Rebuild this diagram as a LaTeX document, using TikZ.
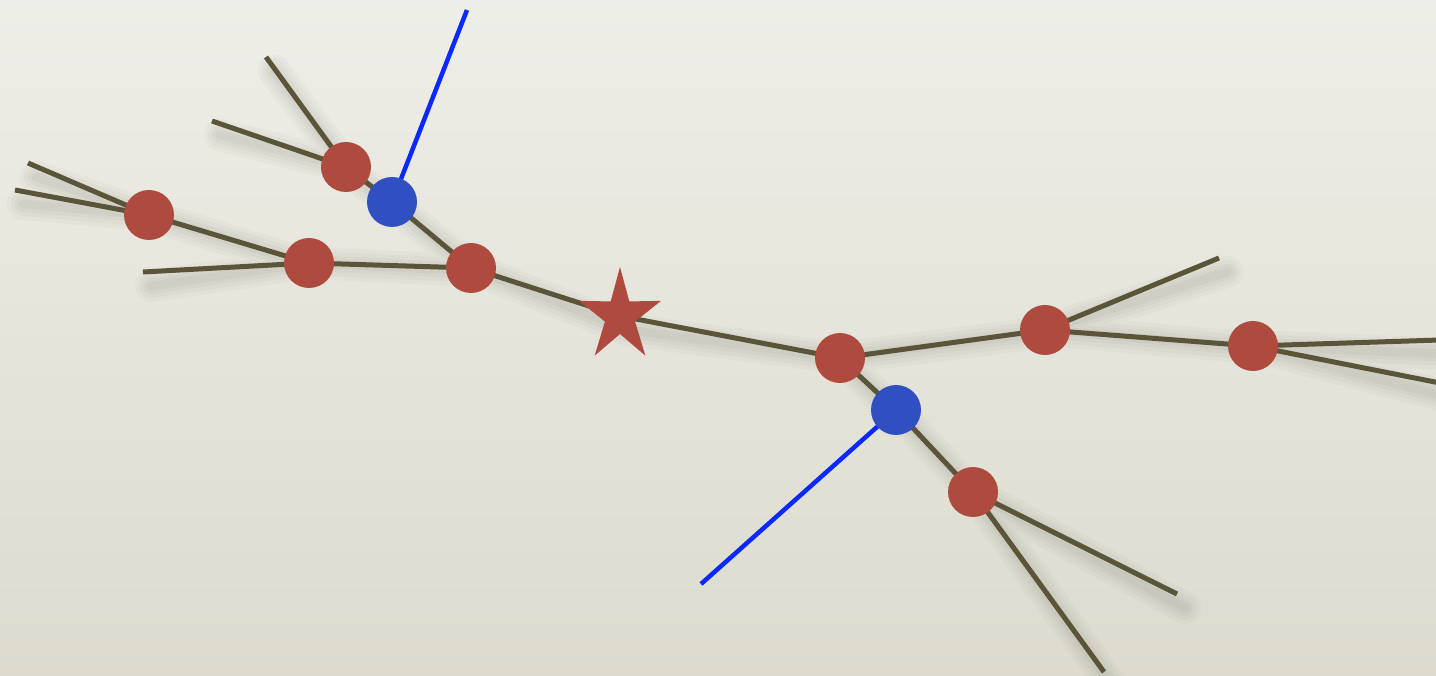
\documentclass[tikz,border=0pt]{standalone}
\pgfdeclarelayer{bg}
\pgfdeclarelayer{shadowlayer}
\pgfdeclarelayer{edgelayer}
\pgfsetlayers{bg,shadowlayer,edgelayer,main}
\definecolor{bgtop}{HTML}{EEEEE8}
\definecolor{bgbot}{HTML}{DCDBCE}
\definecolor{branch}{HTML}{5A5438}
\definecolor{ballred}{HTML}{AF4A3F}
\definecolor{ballblue}{HTML}{3050C2}
\definecolor{linkblue}{HTML}{0A28FF}
\definecolor{shadowc}{HTML}{5E5E50}
\tikzset{
  redball/.style={circle, fill=ballred, minimum size=50pt, inner sep=0pt},
  blueball/.style={circle, fill=ballblue, minimum size=50pt, inner sep=0pt},
  branchline/.style={draw=branch, line width=5pt},
  bluelink/.style={draw=linkblue, line width=4.5pt},
}
\begin{document}
\begin{tikzpicture}[x=1pt,y=-1pt]
\useasboundingbox (0,0) rectangle (1436,676);
% nodes
\node[redball] (a1) at (149,215) {};
\node[redball] (a2) at (309,263) {};
\node[redball] (a3) at (471,268) {};
\node[redball] (a4) at (346,167) {};
\node[blueball] (b1) at (392,202) {};
\coordinate (s) at (620,316);
\fill[ballred, shift={(620,316)}, xscale=0.88, yscale=-1]
  (90:49) -- (126:18) -- (162:49) -- (198:18) -- (234:49) -- (270:18)
  -- (306:49) -- (342:18) -- (18:49) -- (54:18) -- cycle;
\node[redball] (c1) at (840,358) {};
\node[blueball] (b2) at (896,410) {};
\node[redball] (c2) at (973,492) {};
\node[redball] (d1) at (1045,330) {};
\node[redball] (d2) at (1253,346) {};
% free ends
\coordinate (e1) at (28,163);
\coordinate (e2) at (15,190);
\coordinate (e3) at (143,272);
\coordinate (e4) at (266,57);
\coordinate (e5) at (212,121);
\coordinate (e6) at (467,10);
\coordinate (e7) at (1219,258);
\coordinate (e8) at (1440,340);
\coordinate (e9) at (1440,383);
\coordinate (e10) at (1177,594);
\coordinate (e11) at (1104,672);
\coordinate (e12) at (701,584);
\begin{pgfonlayer}{bg}
\shade[top color=bgtop, bottom color=bgbot] (0,0) rectangle (1436,676);
\end{pgfonlayer}
\begin{pgfonlayer}{shadowlayer}
\foreach \w/\o in {32/0.035,24/0.04,16/0.045,9/0.05} {
  \begin{scope}[transparency group, opacity=\o]
  \foreach \p/\q in {a1/e1,a1/e2,a1/a2,a2/e3,a2/a3,a3/b1,b1/a4,a4/e4,a4/e5,a3/s,s/c1,c1/b2,b2/c2,c2/e10,c2/e11,c1/d1,d1/e7,d1/d2,d2/e8,d2/e9} {
    \draw[shadowc, line width=\w pt, line cap=round]
      ([shift={(8,14)}]\p) -- ([shift={(8,14)}]\q);
  }
  \end{scope}
}
\end{pgfonlayer}
\begin{pgfonlayer}{edgelayer}
\draw[branchline] (a1.center) -- (e1);
\draw[branchline] (a1.center) -- (e2);
\draw[branchline] (a1.center) -- (a2.center);
\draw[branchline] (a2.center) -- (e3);
\draw[branchline] (a2.center) -- (a3.center);
\draw[branchline] (a3.center) -- (b1.center);
\draw[branchline] (b1.center) -- (a4.center);
\draw[branchline] (a4.center) -- (e4);
\draw[branchline] (a4.center) -- (e5);
\draw[bluelink] (b1.center) -- (e6);
\draw[branchline] (a3.center) -- (s);
\draw[branchline] (s) -- (c1.center);
\draw[branchline] (c1.center) -- (b2.center);
\draw[branchline] (b2.center) -- (c2.center);
\draw[branchline] (c2.center) -- (e10);
\draw[branchline] (c2.center) -- (e11);
\draw[bluelink] (b2.center) -- (e12);
\draw[branchline] (c1.center) -- (d1.center);
\draw[branchline] (d1.center) -- (e7);
\draw[branchline] (d1.center) -- (d2.center);
\draw[branchline] (d2.center) -- (e8);
\draw[branchline] (d2.center) -- (e9);
\end{pgfonlayer}
\end{tikzpicture}
\end{document}
